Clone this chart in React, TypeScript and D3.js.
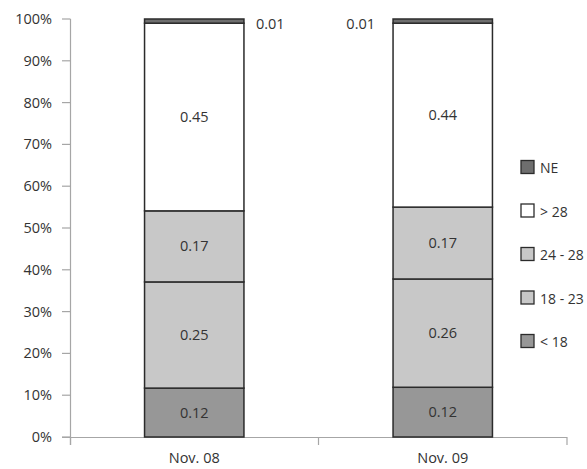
import React from "react";
import * as d3 from "d3";

const categories = ["Nov. 08", "Nov. 09"];
const seriesNames = ["< 18", "18 - 23", "24 - 28", "> 28", "NE"];
const lt18 = [0.117, 0.119];
const s18to23 = [0.254, 0.259];
const s24to28 = [0.17, 0.172];
const gt28 = [0.449, 0.44];
const ne = [0.01, 0.01];
const yTicks = [0, 0.1, 0.2, 0.3, 0.4, 0.5, 0.6, 0.7, 0.8, 0.9, 1.0];
const colors = ["#979797", "#c8c8c8", "#c8c8c8", "#ffffff", "#6e6e6e"];

const W = 587, H = 469;
const font = "'Open Sans', 'Liberation Sans', sans-serif";
const FS = 14.5;

export default function App() {
  const series = [lt18, s18to23, s24to28, gt28, ne];
  const x = d3.scaleBand().domain(categories).range([70, 567]).paddingInner(0.6).paddingOuter(0.3);
  const band = d3.scaleBand().domain(categories).range([70, 567]);
  const y = d3.scaleLinear().domain([0, 1]).range([437, 19]);
  const data = categories.map((c, i) => {
    const o: any = { cat: c };
    seriesNames.forEach((s, k) => (o[s] = series[k][i]));
    return o;
  });
  const stacked = d3.stack().keys(seriesNames)(data);
  const fmt = d3.format(".2f");
  const pct = d3.format(".0%");
  const axisColor = "#a6a6a6";
  const textColor = "#333";

  return (
    <svg width={W} height={H} style={{ position: "absolute", left: 0, top: 0 }}>
      <rect width={W} height={H} fill="#fff" />
      {/* y axis */}
      <line x1={70.5} x2={70.5} y1={y(1)} y2={y(0) + 8} stroke={axisColor} strokeWidth={1.2} />
      {yTicks.map((t) => (
        <g key={t}>
          <line x1={62} x2={70.5} y1={y(t)} y2={y(t)} stroke={axisColor} strokeWidth={1.2} />
          <text x={52} y={y(t)} dy="0.35em" textAnchor="end" fontFamily={font} fontSize={FS} fill={textColor}>
            {pct(t)}
          </text>
        </g>
      ))}
      {/* x axis */}
      <line x1={62} x2={567} y1={y(0) + 0.5} y2={y(0) + 0.5} stroke={axisColor} strokeWidth={1.2} />
      {[70.5, ...categories.map((c) => (band(c) as number) + band.bandwidth())].map((tx, i) => (
        <line key={i} x1={tx} x2={tx} y1={y(0)} y2={y(0) + 8} stroke={axisColor} strokeWidth={1.2} />
      ))}
      {categories.map((c) => (
        <text key={c} x={(band(c) as number) + band.bandwidth() / 2} y={463} textAnchor="middle" fontFamily={font} fontSize={FS} fill={textColor}>
          {c}
        </text>
      ))}
      {/* bars */}
      {stacked.map((s, k) => (
        <g key={s.key}>
          {s.map((d, i) => {
            const bx = x(categories[i]) as number;
            const y0 = y(d[0]);
            const y1 = y(d[1]);
            return (
              <rect key={i} x={bx} y={y1} width={x.bandwidth()} height={y0 - y1} fill={colors[k]} stroke="#2b2b2b" strokeWidth={1.5} />
            );
          })}
        </g>
      ))}
      {stacked.map((s, k) =>
        s.map((d, i) => {
          const bx = x(categories[i]) as number;
          const v = d[1] - d[0];
          if (s.key === "NE") {
            const lx = i === 0 ? bx + x.bandwidth() + 12 : bx - 18;
            return (
              <text key={s.key + i} x={lx} y={y(d[1]) + 5} dy="0.35em" textAnchor={i === 0 ? "start" : "end"} fontFamily={font} fontSize={FS} fill={textColor}>
                {fmt(v)}
              </text>
            );
          }
          return (
            <text key={s.key + i} x={bx + x.bandwidth() / 2} y={(y(d[0]) + y(d[1])) / 2} dy="0.35em" textAnchor="middle" fontFamily={font} fontSize={FS} fill={textColor}>
              {fmt(v)}
            </text>
          );
        })
      )}
      {/* legend */}
      {seriesNames
        .slice()
        .reverse()
        .map((s, j) => {
          const k = seriesNames.indexOf(s);
          const cy = 167 + j * 43.5;
          return (
            <g key={s}>
              <rect x={521} y={cy - 6.5} width={13} height={13} fill={colors[k]} stroke="#2b2b2b" strokeWidth={1.3} />
              <text x={540} y={cy + 1.5} dy="0.35em" fontFamily={font} fontSize={14} fill={textColor}>
                {s}
              </text>
            </g>
          );
        })}
    </svg>
  );
}
